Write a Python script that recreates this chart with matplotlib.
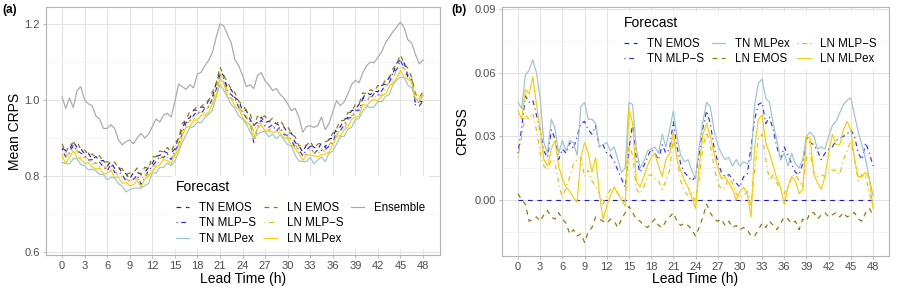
import numpy as np
import matplotlib.pyplot as plt
from matplotlib.lines import Line2D

plt.rcParams['font.family'] = ['Liberation Sans', 'DejaVu Sans']

# lead times every half hour
lead_time = np.arange(0, 48.5, 0.5)
hour_ticks = list(range(0, 49, 3))

# ---- panel (a): mean CRPS ----
crps_tn_emos = [
    0.873, 0.867, 0.870, 0.890, 0.875, 0.872, 0.858, 0.860, 0.844, 0.851,
    0.839, 0.841, 0.826, 0.838, 0.819, 0.824, 0.808, 0.806, 0.792, 0.809,
    0.809, 0.805, 0.810, 0.822, 0.833, 0.852, 0.854, 0.866, 0.860, 0.861,
    0.871, 0.901, 0.924, 0.950, 0.953, 0.974, 0.972, 0.982, 0.980, 0.999,
    1.007, 1.045, 1.074, 1.064, 1.029, 1.028, 1.006, 0.999, 0.972, 0.973,
    0.949, 0.933, 0.942, 0.955, 0.940, 0.944, 0.938, 0.938, 0.931, 0.929,
    0.913, 0.913, 0.888, 0.880, 0.863, 0.882, 0.880, 0.876, 0.870, 0.887,
    0.875, 0.897, 0.900, 0.926, 0.929, 0.948, 0.954, 0.972, 0.974, 0.989,
    1.005, 1.019, 1.014, 1.024, 1.021, 1.038, 1.042, 1.060, 1.070, 1.097,
    1.105, 1.097, 1.064, 1.054, 0.989, 0.996, 0.996]
crps_tn_mlps = [
    0.870, 0.850, 0.861, 0.881, 0.867, 0.860, 0.854, 0.842, 0.843, 0.833,
    0.836, 0.824, 0.813, 0.831, 0.809, 0.810, 0.804, 0.786, 0.789, 0.791,
    0.802, 0.778, 0.795, 0.815, 0.825, 0.838, 0.852, 0.848, 0.859, 0.843,
    0.866, 0.882, 0.911, 0.941, 0.943, 0.960, 0.970, 0.964, 0.979, 0.981,
    1.004, 1.028, 1.065, 1.057, 1.021, 1.014, 1.004, 0.980, 0.969, 0.953,
    0.944, 0.888, 0.930, 0.947, 0.931, 0.928, 0.935, 0.918, 0.929, 0.909,
    0.907, 0.893, 0.875, 0.871, 0.853, 0.868, 0.878, 0.858, 0.869, 0.867,
    0.870, 0.878, 0.888, 0.917, 0.919, 0.934, 0.952, 0.954, 0.973, 0.973,
    1.004, 1.002, 1.003, 1.017, 1.013, 1.024, 1.040, 1.044, 1.071, 1.080,
    1.104, 1.084, 1.059, 1.055, 0.987, 0.984, 0.998]
crps_tn_mlpex = [
    0.836, 0.832, 0.832, 0.846, 0.845, 0.830, 0.827, 0.816, 0.818, 0.814,
    0.804, 0.804, 0.790, 0.796, 0.795, 0.780, 0.773, 0.758, 0.764, 0.768,
    0.768, 0.768, 0.775, 0.780, 0.808, 0.808, 0.823, 0.822, 0.834, 0.827,
    0.838, 0.864, 0.889, 0.908, 0.927, 0.930, 0.941, 0.940, 0.954, 0.962,
    0.973, 1.008, 1.041, 1.026, 1.007, 0.988, 0.977, 0.958, 0.949, 0.937,
    0.917, 0.898, 0.910, 0.916, 0.917, 0.903, 0.910, 0.898, 0.908, 0.896,
    0.882, 0.879, 0.855, 0.839, 0.838, 0.838, 0.849, 0.832, 0.842, 0.850,
    0.838, 0.860, 0.865, 0.884, 0.903, 0.904, 0.923, 0.928, 0.948, 0.952,
    0.971, 0.983, 0.980, 0.982, 0.996, 0.995, 1.009, 1.014, 1.040, 1.052,
    1.060, 1.058, 1.039, 1.032, 1.003, 0.994, 1.013]
crps_ln_emos = [
    0.885, 0.862, 0.881, 0.887, 0.890, 0.870, 0.869, 0.855, 0.858, 0.849,
    0.853, 0.836, 0.837, 0.836, 0.836, 0.822, 0.819, 0.803, 0.808, 0.809,
    0.821, 0.802, 0.823, 0.820, 0.851, 0.850, 0.866, 0.863, 0.875, 0.863,
    0.887, 0.898, 0.938, 0.948, 0.970, 0.972, 0.984, 0.980, 0.994, 0.999,
    1.021, 1.042, 1.087, 1.064, 1.048, 1.028, 1.019, 0.997, 0.987, 0.973,
    0.965, 0.932, 0.957, 0.954, 0.958, 0.943, 0.952, 0.937, 0.947, 0.932,
    0.930, 0.912, 0.903, 0.879, 0.882, 0.880, 0.892, 0.873, 0.884, 0.887,
    0.890, 0.894, 0.913, 0.924, 0.946, 0.946, 0.966, 0.969, 0.988, 0.989,
    1.019, 1.016, 1.027, 1.022, 1.038, 1.036, 1.052, 1.055, 1.082, 1.095,
    1.119, 1.096, 1.083, 1.060, 1.016, 1.006, 1.022]
crps_ln_mlps = [
    0.858, 0.851, 0.863, 0.871, 0.866, 0.846, 0.849, 0.846, 0.831, 0.835,
    0.824, 0.825, 0.820, 0.820, 0.814, 0.800, 0.799, 0.794, 0.783, 0.794,
    0.792, 0.790, 0.805, 0.803, 0.827, 0.826, 0.845, 0.853, 0.848, 0.848,
    0.856, 0.885, 0.919, 0.931, 0.946, 0.948, 0.963, 0.969, 0.967, 0.984,
    0.992, 1.028, 1.070, 1.047, 1.024, 1.004, 0.998, 0.986, 0.960, 0.958,
    0.936, 0.918, 0.939, 0.937, 0.934, 0.919, 0.931, 0.926, 0.920, 0.917,
    0.901, 0.899, 0.885, 0.862, 0.858, 0.856, 0.871, 0.862, 0.857, 0.872,
    0.862, 0.881, 0.895, 0.907, 0.922, 0.922, 0.945, 0.959, 0.961, 0.974,
    0.991, 1.003, 1.009, 1.005, 1.014, 1.012, 1.033, 1.046, 1.057, 1.080,
    1.088, 1.083, 1.067, 1.047, 1.006, 0.994, 1.019]
crps_ln_mlpex = [
    0.853, 0.833, 0.850, 0.866, 0.848, 0.845, 0.833, 0.835, 0.824, 0.818,
    0.821, 0.805, 0.807, 0.816, 0.796, 0.797, 0.781, 0.783, 0.774, 0.777,
    0.788, 0.771, 0.792, 0.800, 0.811, 0.825, 0.829, 0.843, 0.841, 0.832,
    0.855, 0.867, 0.907, 0.928, 0.930, 0.947, 0.947, 0.960, 0.960, 0.968,
    0.989, 1.010, 1.057, 1.044, 1.008, 1.003, 0.982, 0.977, 0.953, 0.942,
    0.933, 0.900, 0.926, 0.934, 0.918, 0.918, 0.915, 0.917, 0.913, 0.901,
    0.898, 0.881, 0.872, 0.859, 0.841, 0.855, 0.855, 0.853, 0.850, 0.856,
    0.858, 0.863, 0.882, 0.904, 0.906, 0.921, 0.929, 0.949, 0.954, 0.958,
    0.988, 0.985, 0.996, 1.002, 0.998, 1.011, 1.015, 1.035, 1.046, 1.058,
    1.078, 1.060, 1.054, 1.049, 1.001, 1.005, 1.012]
crps_ensemble = [
    1.008, 0.978, 1.005, 0.980, 1.025, 1.035, 1.000, 0.990, 0.985, 0.958,
    0.950, 0.925, 0.925, 0.935, 0.925, 0.895, 0.882, 0.890, 0.895, 0.885,
    0.900, 0.912, 0.900, 0.910, 0.930, 0.950, 0.942, 0.960, 0.965, 0.955,
    0.995, 1.042, 1.035, 1.028, 1.040, 1.032, 1.068, 1.073, 1.090, 1.105,
    1.125, 1.165, 1.200, 1.195, 1.172, 1.150, 1.105, 1.090, 1.065, 1.035,
    1.040, 1.030, 1.065, 1.072, 1.050, 1.040, 1.025, 1.030, 1.015, 1.005,
    0.990, 0.972, 0.978, 0.955, 0.915, 0.930, 0.932, 0.928, 0.932, 0.955,
    0.922, 0.938, 0.968, 0.998, 0.985, 0.995, 1.015, 1.040, 1.052, 1.045,
    1.072, 1.090, 1.100, 1.098, 1.112, 1.127, 1.150, 1.165, 1.180, 1.192,
    1.205, 1.190, 1.158, 1.150, 1.120, 1.095, 1.105]

# ---- panel (b): CRPSS w.r.t. TN EMOS ----
crpss_tn_emos = [0.0] * 97
crpss_tn_mlps = [
    0.022, 0.034, 0.049, 0.046, 0.047, 0.040, 0.033, 0.023, 0.020, 0.033,
    0.029, 0.019, 0.024, 0.022, 0.027, 0.024, 0.030, 0.036, 0.037, 0.033,
    0.031, 0.035, 0.025, 0.026, 0.022, 0.021, 0.018, 0.014, 0.010, 0.006,
    0.024, 0.036, 0.019, 0.013, 0.016, 0.020, 0.024, 0.022, 0.019, 0.026,
    0.022, 0.024, 0.037, 0.025, 0.017, 0.013, 0.011, 0.009, 0.011, 0.022,
    0.034, 0.042, 0.036, 0.025, 0.018, 0.013, 0.011, 0.012, 0.010, 0.008,
    0.006, 0.011, 0.012, 0.025, 0.038, 0.045, 0.046, 0.036, 0.039, 0.033,
    0.025, 0.019, 0.025, 0.021, 0.017, 0.013, 0.012, 0.017, 0.030, 0.027,
    0.026, 0.023, 0.019, 0.022, 0.024, 0.025, 0.028, 0.029, 0.030, 0.031,
    0.033, 0.030, 0.022, 0.019, 0.027, 0.022, 0.016]
crpss_tn_mlpex = [
    0.046, 0.043, 0.059, 0.061, 0.066, 0.060, 0.048, 0.027, 0.022, 0.038,
    0.034, 0.022, 0.028, 0.023, 0.028, 0.027, 0.021, 0.044, 0.046, 0.038,
    0.038, 0.036, 0.025, 0.026, 0.027, 0.023, 0.025, 0.019, 0.013, 0.015,
    0.046, 0.045, 0.024, 0.015, 0.018, 0.023, 0.024, 0.025, 0.022, 0.031,
    0.025, 0.033, 0.042, 0.030, 0.021, 0.018, 0.019, 0.014, 0.010, 0.025,
    0.037, 0.046, 0.044, 0.033, 0.026, 0.022, 0.019, 0.020, 0.016, 0.019,
    0.016, 0.018, 0.017, 0.019, 0.045, 0.055, 0.057, 0.048, 0.046, 0.036,
    0.028, 0.019, 0.022, 0.016, 0.022, 0.017, 0.015, 0.019, 0.030, 0.032,
    0.030, 0.024, 0.025, 0.024, 0.030, 0.035, 0.037, 0.041, 0.045, 0.047,
    0.048, 0.040, 0.032, 0.026, 0.019, 0.010, 0.002]
crpss_ln_emos = [
    0.003, 0.000, -0.002, -0.010, -0.009, -0.008, -0.010, -0.007, -0.005, -0.008,
    -0.009, -0.006, -0.009, -0.011, -0.016, -0.014, -0.017, -0.016, -0.020, -0.015,
    -0.013, -0.008, -0.009, -0.010, -0.011, -0.009, -0.010, -0.013, -0.009, -0.006,
    -0.003, -0.006, -0.009, -0.010, -0.012, -0.013, -0.011, -0.009, -0.012, -0.013,
    -0.010, -0.008, -0.006, -0.010, -0.012, -0.011, -0.012, -0.014, -0.017, -0.013,
    -0.008, -0.002, -0.006, -0.009, -0.010, -0.009, -0.012, -0.010, -0.013, -0.012,
    -0.014, -0.013, -0.014, -0.017, -0.017, -0.014, -0.011, -0.013, -0.010, -0.012,
    -0.014, -0.011, -0.008, -0.009, -0.011, -0.010, -0.014, -0.009, -0.010, -0.006,
    -0.006, -0.009, -0.007, -0.006, -0.008, -0.007, -0.006, -0.008, -0.006, -0.008,
    -0.007, -0.006, -0.009, -0.010, -0.006, -0.004, -0.007]
crpss_ln_mlps = [
    0.020, 0.030, 0.040, 0.038, 0.041, 0.033, 0.022, 0.016, 0.014, 0.019,
    0.018, 0.008, 0.001, 0.006, 0.011, 0.017, 0.019, 0.020, 0.011, 0.014,
    0.009, 0.006, 0.003, -0.002, 0.002, 0.005, 0.006, 0.003, 0.002, -0.001,
    0.026, 0.021, 0.005, 0.003, 0.006, 0.011, 0.012, 0.010, 0.009, 0.005,
    0.009, 0.014, 0.029, 0.020, 0.009, 0.004, 0.002, 0.003, -0.001, 0.010,
    0.025, 0.032, 0.026, 0.016, 0.008, 0.005, 0.006, 0.011, 0.008, 0.003,
    0.001, 0.002, 0.004, -0.003, 0.014, 0.029, 0.031, 0.019, 0.009, 0.012,
    0.008, 0.005, 0.003, 0.006, 0.011, 0.012, 0.009, 0.006, 0.020, 0.022,
    0.013, 0.011, 0.012, 0.011, 0.013, 0.014, 0.014, 0.012, 0.019, 0.023,
    0.028, 0.019, 0.009, 0.012, 0.011, 0.003, -0.003]
crpss_ln_mlpex = [
    0.042, 0.038, 0.052, 0.050, 0.058, 0.045, 0.033, 0.019, 0.016, 0.024,
    0.028, 0.016, 0.010, 0.006, 0.004, 0.001, -0.001, 0.020, 0.027, 0.022,
    0.013, 0.020, 0.003, -0.009, -0.003, 0.002, 0.006, 0.003, 0.000, -0.003,
    0.043, 0.036, 0.009, 0.006, 0.011, 0.016, 0.020, 0.022, 0.016, 0.011,
    0.019, 0.022, 0.032, 0.019, 0.014, 0.009, 0.006, 0.001, -0.004, 0.016,
    0.031, 0.036, 0.030, 0.022, 0.015, 0.010, 0.011, 0.008, 0.005, 0.000,
    0.004, 0.006, 0.003, -0.008, 0.025, 0.038, 0.040, 0.027, 0.022, 0.016,
    0.010, 0.006, -0.002, 0.006, 0.011, 0.009, 0.003, 0.005, 0.030, 0.029,
    0.012, 0.008, 0.005, 0.011, 0.022, 0.031, 0.026, 0.026, 0.033, 0.037,
    0.033, 0.019, 0.011, 0.011, 0.013, 0.010, -0.004]

# line styles (ggplot-like dashed / dotdash / solid)
styles = {
    'TN EMOS':  dict(color='#2323B0', ls=(0, (4, 4))),
    'TN MLP\u2212S': dict(color='#2E2EFF', ls=(0, (1, 3, 4, 3))),
    'TN MLPex': dict(color='#9CC3CF', ls='-'),
    'LN EMOS':  dict(color='#8B7500', ls=(0, (4, 4))),
    'LN MLP\u2212S': dict(color='#E6BF00', ls=(0, (1, 3, 4, 3))),
    'LN MLPex': dict(color='#F7CF00', ls='-'),
    'Ensemble': dict(color='#A8A8A8', ls='-'),
}
LW = 0.85

series_a = [('TN EMOS', crps_tn_emos), ('TN MLP\u2212S', crps_tn_mlps),
            ('TN MLPex', crps_tn_mlpex), ('LN EMOS', crps_ln_emos),
            ('LN MLP\u2212S', crps_ln_mlps), ('LN MLPex', crps_ln_mlpex),
            ('Ensemble', crps_ensemble)]
series_b = [('TN EMOS', crpss_tn_emos), ('TN MLP\u2212S', crpss_tn_mlps),
            ('TN MLPex', crpss_tn_mlpex), ('LN EMOS', crpss_ln_emos),
            ('LN MLP\u2212S', crpss_ln_mlps), ('LN MLPex', crpss_ln_mlpex)]


def style_panel(ax, xlim, ylim, yticks, ylabels, yminor):
    ax.set_xlim(*xlim)
    ax.set_ylim(*ylim)
    ax.set_xticks(hour_ticks)
    ax.set_xticklabels([str(h) for h in hour_ticks])
    ax.set_yticks(yticks)
    ax.set_yticklabels(ylabels)
    ax.set_yticks(yminor, minor=True)
    ax.tick_params(which='major', length=2.5, width=0.6, color='#B3B3B3',
                   labelsize=8, labelcolor='#4D4D4D', pad=2)
    ax.tick_params(which='minor', length=0)
    ax.grid(which='major', color='#E3E3E3', lw=0.7)
    ax.grid(which='minor', axis='y', color='#F0F0F0', lw=0.5)
    ax.set_axisbelow(True)
    for sp in ax.spines.values():
        sp.set_color('#B3B3B3')
        sp.set_linewidth(0.8)


def add_legend(ax, handles, labels, anchor):
    leg = ax.legend(handles, labels, ncol=3, title='Forecast',
                    loc='upper left', bbox_to_anchor=anchor,
                    bbox_transform=ax.figure.transFigure, borderaxespad=0,
                    fontsize=8.3, title_fontsize=10, alignment='left',
                    handlelength=1.15, handletextpad=0.85, columnspacing=0.67,
                    labelspacing=0.28, borderpad=0.35, frameon=True,
                    fancybox=False, framealpha=1, facecolor='white',
                    edgecolor='none')
    # a bit more room between the title and the keys, like ggplot
    leg._legend_box.sep = 5.8
    leg.set_zorder(5)
    return leg


fig = plt.figure(figsize=(8.99, 2.95), dpi=100)
ax_a = fig.add_axes([46 / 899, 1 - 255 / 295, 394 / 899, 248 / 295])
ax_b = fig.add_axes([502 / 899, 1 - 256 / 295, 387 / 899, 249 / 295])

# panel (a)
lines_a = {}
for name, vals in series_a:
    st = styles[name]
    lines_a[name], = ax_a.plot(lead_time, vals, color=st['color'],
                               linestyle=st['ls'], lw=LW, label=name)
style_panel(ax_a, (-2.13, 50.26), (0.592, 1.2447), [0.6, 0.8, 1.0, 1.2],
            ['0.6', '0.8', '1.0', '1.2'], [0.7, 0.9, 1.1])
blank = Line2D([], [], color='none')
hnd = [lines_a[n] for n, _ in series_a] + [blank, blank]
lab = [n for n, _ in series_a] + ['', '']
add_legend(ax_a, hnd, lab, (172 / 899, 1 - 176 / 295))

# panel (b)
lines_b = {}
for name, vals in series_b:
    st = styles[name]
    lines_b[name], = ax_b.plot(lead_time, vals, color=st['color'],
                               linestyle=st['ls'], lw=LW, label=name)
style_panel(ax_b, (-2.16, 50.16), (-0.0264, 0.0909), [0.0, 0.03, 0.06, 0.09],
            ['0.00', '0.03', '0.06', '0.09'], [-0.015, 0.015, 0.045, 0.075])
add_legend(ax_b, [lines_b[n] for n, _ in series_b], [n for n, _ in series_b],
           (620 / 899, 1 - 12 / 295))

# axis titles and panel tags
fig.text(243 / 899, 1 - 279 / 295, 'Lead Time (h)', ha='center', va='center', fontsize=10)
fig.text(695.5 / 899, 1 - 279 / 295, 'Lead Time (h)', ha='center', va='center', fontsize=10)
fig.text(15 / 899, 1 - 131 / 295, 'Mean CRPS', rotation=90, ha='center', va='center', fontsize=10)
fig.text(462.5 / 899, 1 - 131 / 295, 'CRPSS', rotation=90, ha='center', va='center', fontsize=10)
fig.text(2 / 899, 1 - 10 / 295, '(a)', ha='left', va='center', fontsize=8.5, fontweight='bold')
fig.text(451 / 899, 1 - 10 / 295, '(b)', ha='left', va='center', fontsize=8.5, fontweight='bold')

fig.savefig('out.png', dpi=100)
